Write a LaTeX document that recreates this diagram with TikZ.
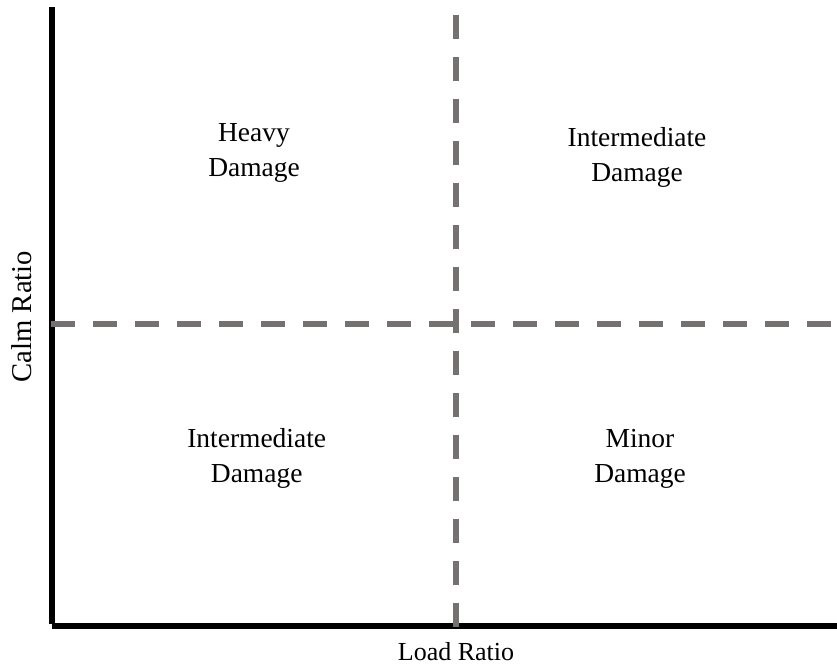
\documentclass[tikz,border=0pt]{standalone}
\usepackage{fontspec}
\setmainfont{Liberation Serif}
\definecolor{dashgray}{HTML}{767171}
\begin{document}
\begin{tikzpicture}[x=0.75pt,y=-0.75pt,
  axisline/.style={line width=4.5pt,black},
  divline/.style={line width=4.5pt,dashgray,dash pattern=on 18pt off 13.5pt},
  zonelabel/.style={anchor=base,inner sep=0pt,font=\fontsize{20.6}{26.25}\selectfont},
  axislabel/.style={anchor=base,inner sep=0pt,font=\fontsize{19.5}{22}\selectfont}]
\useasboundingbox (0,0) rectangle (837,664);
% axes
\coordinate (ytop) at (51.5,7);
\coordinate (ybot) at (51.5,624.3);
\coordinate (xleft) at (51.7,625.7);
\coordinate (xright) at (837,625.7);
\draw[axisline] (ytop) -- (ybot);
\draw[axisline] (xleft) -- (xright);
% dividers
\coordinate (vtop) at (455.5,15);
\coordinate (vbot) at (455.5,627.7);
\coordinate (hleft) at (51.3,324.3);
\coordinate (hright) at (831.3,324.3);
\draw[divline] (vtop) -- (vbot);
\draw[divline] (hleft) -- (hright);
% zone labels
\node[zonelabel] (heavy) at (254,141.7) {\begin{tabular}[t]{@{}c@{}}Heavy\\Damage\end{tabular}};
\node[zonelabel] (intTR) at (637,146.5) {\begin{tabular}[t]{@{}c@{}}Intermediate\\Damage\end{tabular}};
\node[zonelabel] (intBL) at (256.7,447.5) {\begin{tabular}[t]{@{}c@{}}Intermediate\\Damage\end{tabular}};
\node[zonelabel] (minor) at (640,447.5) {\begin{tabular}[t]{@{}c@{}}Minor\\Damage\end{tabular}};
% axis labels
\node[axislabel] (xlabel) at (456,660.5) {Load Ratio};
\node[axislabel,font=\fontsize{21.5}{24}\selectfont,rotate=90] (ylabel) at (31.7,316.7) {Calm Ratio};
\end{tikzpicture}
\end{document}
